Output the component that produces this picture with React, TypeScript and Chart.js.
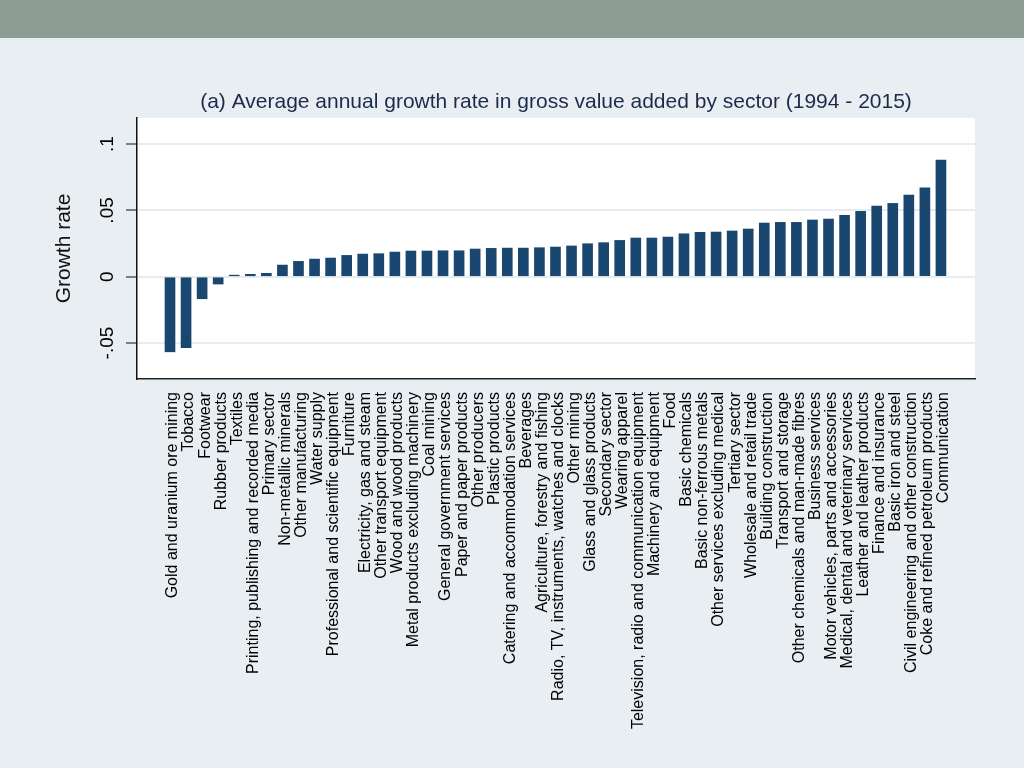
import React, { useEffect, useRef } from "react";
import { Chart, registerables } from "chart.js";

Chart.register(...registerables);

const TITLE = "(a) Average annual growth rate in gross value added by sector (1994 - 2015)";
const Y_TITLE = "Growth rate";

const sectors: string[] = [
  "Gold and uranium ore mining",
  "Tobacco",
  "Footwear",
  "Rubber products",
  "Textiles",
  "Printing, publishing and recorded media",
  "Primary sector",
  "Non-metallic minerals",
  "Other manufacturing",
  "Water supply",
  "Professional and scientific equipment",
  "Furniture",
  "Electricity, gas and steam",
  "Other transport equipment",
  "Wood and wood products",
  "Metal products excluding machinery",
  "Coal mining",
  "General government services",
  "Paper and paper products",
  "Other producers",
  "Plastic products",
  "Catering and accommodation services",
  "Beverages",
  "Agriculture, forestry and fishing",
  "Radio, TV, instruments, watches and clocks",
  "Other mining",
  "Glass and glass products",
  "Secondary sector",
  "Wearing apparel",
  "Television, radio and communication equipment",
  "Machinery and equipment",
  "Food",
  "Basic chemicals",
  "Basic non-ferrous metals",
  "Other services excluding medical",
  "Tertiary sector",
  "Wholesale and retail trade",
  "Building construction",
  "Transport and storage",
  "Other chemicals and man-made fibres",
  "Business services",
  "Motor vehicles, parts and accessories",
  "Medical, dental and veterinary services",
  "Leather and leather products",
  "Finance and insurance",
  "Basic iron and steel",
  "Civil engineering and other construction",
  "Coke and refined petroleum products",
  "Communication",
];

const growthRates: number[] = [
  -0.0566, -0.0535, -0.0166, -0.0055, 0.0012, 0.0018, 0.0026, 0.0088, 0.0116, 0.0133,
  0.0141, 0.0161, 0.0171, 0.0174, 0.0186, 0.0194, 0.0194, 0.0196, 0.0196, 0.0209,
  0.0214, 0.0216, 0.0216, 0.0219, 0.0224, 0.0232, 0.0249, 0.0257, 0.0274, 0.0292,
  0.0292, 0.0299, 0.0324, 0.0335, 0.0337, 0.0345, 0.036, 0.0405, 0.041, 0.041,
  0.0428, 0.0435, 0.0463, 0.0493, 0.0533, 0.0553, 0.0616, 0.0671, 0.088,
];

const yTickValues: number[] = [-0.05, 0, 0.05, 0.1];
const yTickLabels: string[] = ["-.05", "0", ".05", ".1"];

const FONT = "'Liberation Sans', Arial, Helvetica, sans-serif";
const BG = "#e8eef1";
const BAND = "#8e9c96";
const BAR = "#1a476f";

export default function App() {
  const ref = useRef<HTMLCanvasElement | null>(null);

  useEffect(() => {
    if (!ref.current) return;

    const decor = {
      id: "decor",
      beforeDraw(chart: any) {
        const { ctx, chartArea } = chart;
        ctx.save();
        ctx.fillStyle = BG;
        ctx.fillRect(0, 0, chart.width, chart.height);
        ctx.fillStyle = BAND;
        ctx.fillRect(0, 0, chart.width, 38);
        ctx.fillStyle = "#ffffff";
        ctx.fillRect(chartArea.left, chartArea.top, chartArea.right - chartArea.left, chartArea.bottom - chartArea.top);
        ctx.restore();
      },
      afterDraw(chart: any) {
        const { ctx, chartArea } = chart;
        const yScale = chart.scales.y;
        ctx.save();
        ctx.fillStyle = "#1c2b4c";
        ctx.font = `21px ${FONT}`;
        ctx.textAlign = "center";
        ctx.textBaseline = "middle";
        ctx.fillText(TITLE, (chartArea.left + chartArea.right) / 2, 102);
        ctx.fillStyle = "#000";
        ctx.font = `19px ${FONT}`;
        yTickValues.forEach((v, i) => {
          const py = yScale.getPixelForValue(v);
          ctx.save();
          ctx.translate(108, py);
          ctx.rotate(-Math.PI / 2);
          ctx.textAlign = "center";
          ctx.textBaseline = "middle";
          ctx.fillText(yTickLabels[i], 0, 0);
          ctx.restore();
        });
        ctx.restore();
      },
    };

    const chart = new Chart(ref.current, {
      type: "bar",
      data: {
        datasets: [
          {
            data: growthRates.map((v, i) => ({ x: i, y: v })),
            backgroundColor: BAR,
            borderWidth: 0,
            barThickness: 10,
          },
        ],
      },
      options: {
        animation: false,
        responsive: false,
        maintainAspectRatio: false,
        layout: { padding: { top: 118, left: 0, right: 49, bottom: 0 } },
        plugins: {
          legend: { display: false },
          tooltip: { enabled: false },
          title: { display: false },
        },
        scales: {
          x: {
            type: "linear",
            offset: false,
            min: -2.054,
            max: 50.12,
            grid: { display: false, drawTicks: false, offset: false },
            border: { display: true, color: "#222", width: 1.5 },
            afterBuildTicks: (scale: any) => {
              scale.ticks = sectors.map((_, i) => ({ value: i }));
            },
            afterFit: (scale: any) => {
              scale.height = 389;
              scale.paddingLeft = 0;
              scale.paddingRight = 0;
            },
            ticks: {
              autoSkip: false,
              minRotation: 90,
              maxRotation: 90,
              padding: 13,
              labelOffset: 3,
              color: "#000",
              font: { family: FONT, size: 16 },
              callback: (v: any) => sectors[Math.round(Number(v))] ?? "",
            },
          },
          y: {
            min: -0.0771,
            max: 0.1197,
            afterBuildTicks: (scale: any) => {
              scale.ticks = yTickValues.map((v) => ({ value: v }));
            },
            afterFit: (scale: any) => {
              scale.width = 137;
              scale.paddingTop = 0;
              scale.paddingBottom = 0;
            },
            grid: {
              color: "#e6ecef",
              lineWidth: 2,
              tickColor: "#111",
              tickLength: 11,
              tickWidth: 1,
            },
            border: { display: true, color: "#111", width: 1.5 },
            ticks: { display: false },
            title: {
              display: true,
              text: Y_TITLE,
              color: "#111",
              font: { family: FONT, size: 21 },
              padding: { top: 52, bottom: 0 },
            },
          },
        },
      },
      plugins: [decor],
    } as any);

    return () => chart.destroy();
  }, []);

  return (
    <div style={{ position: "fixed", left: 0, top: 0, width: 1024, height: 768, background: BG }}>
      <canvas ref={ref} width={1024} height={768} style={{ display: "block", width: 1024, height: 768 }} />
    </div>
  );
}
